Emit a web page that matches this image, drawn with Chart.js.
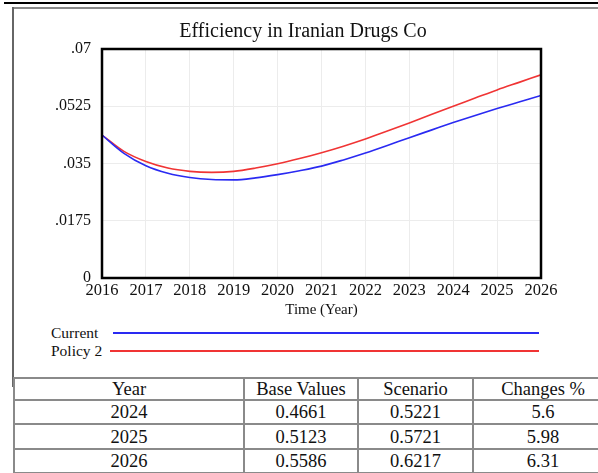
<!DOCTYPE html>
<html>
<head>
<meta charset="utf-8">
<script src="https://cdn.jsdelivr.net/npm/chart.js@4.4.0/dist/chart.umd.min.js"></script>
<style>
  html, body { margin: 0; padding: 0; background: #fff; overflow: hidden; }
  #page { position: relative; width: 598px; height: 473px; overflow: hidden; font-family: "Liberation Serif", "Times New Roman", serif; color: #111; }
  #chart { position: absolute; left: 0; top: 0; }
  #title { position: absolute; left: 103px; width: 400px; top: 18px; text-align: center; font-size: 20px; line-height: 24px; }
  .rule { position: absolute; }
  .legend-label { position: absolute; font-size: 15.5px; line-height: 18px; }
  .legend-line { position: absolute; height: 2px; }
  #stats { position: absolute; left: 13px; top: 377px; border-collapse: collapse; font-size: 18.5px; table-layout: fixed; }
  #stats td { border: 2px solid #8a8a8a; text-align: center; padding: 0; line-height: 20px; }
</style>
</head>
<body>
<div id="page">
  <div class="rule" style="left:4px; top:2px; width:600px; height:2px; background:#000;"></div>
  <div class="rule" style="left:13px; top:7px; width:600px; height:2px; background:#8a8a8a;"></div>
  <div class="rule" style="left:12px; top:7px; width:2px; height:380px; background:#666;"></div>
  <canvas id="chart" width="598" height="320"></canvas>
  <div id="title">Efficiency in Iranian Drugs Co</div>
  <div id="legend"></div>
  <table id="stats"></table>
</div>
<script>
// time axis (half-year steps) and the two runs
const timePoints = [2016, 2016.5, 2017, 2017.5, 2018, 2018.5, 2019, 2019.5, 2020, 2020.5, 2021,
                    2021.5, 2022, 2022.5, 2023, 2023.5, 2024, 2024.5, 2025, 2025.5, 2026];
const currentValues = [0.0437, 0.0381, 0.0343, 0.0320, 0.0307, 0.0301, 0.0300, 0.0306, 0.0316, 0.0328, 0.0342,
                       0.0361, 0.0382, 0.0405, 0.0429, 0.0452, 0.0475, 0.0497, 0.0518, 0.0538, 0.0558];
const policyValues = [0.0437, 0.0387, 0.0356, 0.0336, 0.0326, 0.0323, 0.0326, 0.0336, 0.0349, 0.0365, 0.0383,
                      0.0403, 0.0425, 0.0449, 0.0474, 0.0500, 0.0525, 0.0550, 0.0575, 0.0598, 0.0621];

const xTickValues = [2016, 2017, 2018, 2019, 2020, 2021, 2022, 2023, 2024, 2025, 2026];
const yTickValues = [0, 0.0175, 0.035, 0.0525, 0.07];
const yTickLabels = ['0', '.0175', '.035', '.0525', '.07'];

const seriesNames = ['Current', 'Policy 2'];
const seriesColors = ['#2a2af2', '#f03434'];

// summary table
const tableHeader = ['Year', 'Base Values', 'Scenario', 'Changes %'];
const tableYears = ['2024', '2025', '2026'];
const baseValues = ['0.4661', '0.5123', '0.5586'];
const scenarioValues = ['0.5221', '0.5721', '0.6217'];
const changesPct = ['5.6', '5.98', '6.31'];

const serif = '"Liberation Serif", "Times New Roman", serif';

// heavy frame round the plot area
const plotFrame = {
    id: 'plotFrame',
    afterDatasetsDraw(chart) {
        const a = chart.chartArea;
        const ctx = chart.ctx;
        ctx.save();
        ctx.strokeStyle = '#000';
        ctx.lineWidth = 2.5;
        ctx.strokeRect(a.left, a.top, a.right - a.left, a.bottom - a.top);
        ctx.restore();
    }
};

const ctx = document.getElementById('chart').getContext('2d');
new Chart(ctx, {
    type: 'line',
    data: {
        datasets: [
            {
                label: seriesNames[0],
                data: timePoints.map((t, i) => ({ x: t, y: currentValues[i] })),
                borderColor: seriesColors[0],
                borderWidth: 1.6,
                pointRadius: 0,
                cubicInterpolationMode: 'monotone'
            },
            {
                label: seriesNames[1],
                data: timePoints.map((t, i) => ({ x: t, y: policyValues[i] })),
                borderColor: seriesColors[1],
                borderWidth: 1.6,
                pointRadius: 0,
                cubicInterpolationMode: 'monotone'
            }
        ]
    },
    options: {
        responsive: false,
        animation: false,
        devicePixelRatio: 1,
        layout: { padding: { left: 0, right: 57, top: 49, bottom: 0 } },
        plugins: {
            legend: { display: false },
            tooltip: { enabled: false }
        },
        scales: {
            x: {
                type: 'linear',
                min: 2016,
                max: 2026,
                afterBuildTicks: (scale) => { scale.ticks = xTickValues.map(v => ({ value: v })); },
                afterFit: (scale) => { scale.height = 42; },
                ticks: {
                    color: '#111',
                    font: { family: serif, size: 16.5 },
                    padding: 3,
                    maxRotation: 0,
                    callback: (v) => String(v)
                },
                grid: { color: '#ececec', drawTicks: false },
                border: { display: false },
                title: {
                    display: true,
                    text: 'Time (Year)',
                    color: '#111',
                    font: { family: serif, size: 15 },
                    padding: { top: 0, bottom: 1 }
                }
            },
            y: {
                min: 0,
                max: 0.07,
                afterBuildTicks: (scale) => { scale.ticks = yTickValues.map(v => ({ value: v })); },
                afterFit: (scale) => { scale.width = 102; },
                ticks: {
                    color: '#111',
                    font: { family: serif, size: 16 },
                    padding: 11,
                    callback: (v, i) => yTickLabels[i]
                },
                grid: { color: '#ececec', drawTicks: false },
                border: { display: false }
            }
        }
    },
    plugins: [plotFrame]
});

// legend: name on the left, long sample line to the right
const legend = document.getElementById('legend');
const legendRows = [
    { top: 324, lineLeft: 113 },
    { top: 342, lineLeft: 110 }
];
seriesNames.forEach((name, i) => {
    const label = document.createElement('div');
    label.className = 'legend-label';
    label.style.left = '51px';
    label.style.top = legendRows[i].top + 'px';
    label.textContent = name;
    legend.appendChild(label);

    const line = document.createElement('div');
    line.className = 'legend-line';
    line.style.left = legendRows[i].lineLeft + 'px';
    line.style.width = (539 - legendRows[i].lineLeft) + 'px';
    line.style.top = (legendRows[i].top + 8) + 'px';
    line.style.background = seriesColors[i];
    legend.appendChild(line);
});

// table
const table = document.getElementById('stats');
const colWidths = [230, 114, 115, 140];
const rowHeights = [22, 24, 25, 24];
const colgroup = document.createElement('colgroup');
colWidths.forEach(w => {
    const col = document.createElement('col');
    col.style.width = w + 'px';
    colgroup.appendChild(col);
});
table.appendChild(colgroup);
table.style.width = colWidths.reduce((a, b) => a + b, 0) + 'px';

function addRow(cells, h) {
    const tr = document.createElement('tr');
    tr.style.height = h + 'px';
    cells.forEach(c => {
        const td = document.createElement('td');
        td.textContent = c;
        tr.appendChild(td);
    });
    table.appendChild(tr);
}
addRow(tableHeader, rowHeights[0]);
tableYears.forEach((y, i) => {
    addRow([y, baseValues[i], scenarioValues[i], changesPct[i]], rowHeights[i + 1]);
});
</script>
</body>
</html>
